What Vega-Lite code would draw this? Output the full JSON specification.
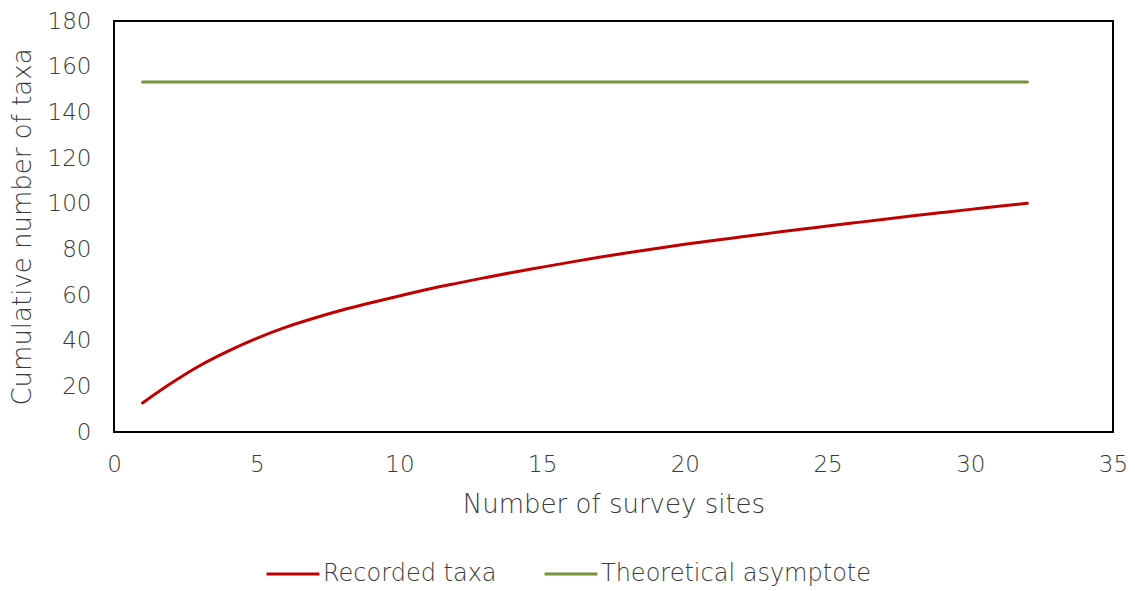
{
  "$schema": "https://vega.github.io/schema/vega-lite/v6.json",
  "autosize": {"type": "none"},
  "width": 999,
  "height": 411,
  "padding": {"left": 114, "top": 21, "right": 22, "bottom": 159},
  "background": "white",
  "config": {
    "view": {"stroke": "#000000", "strokeWidth": 2},
    "font": "DejaVu Sans",
    "axis": {
      "grid": false,
      "domain": false,
      "ticks": false,
      "labelFlush": false,
      "labelFont": "DejaVu Sans",
      "labelFontWeight": 200,
      "labelFontSize": 23,
      "labelColor": "#3a3a3a",
      "titleFont": "DejaVu Sans",
      "titleFontWeight": 200,
      "titleFontSize": 26,
      "titleColor": "#3a3a3a"
    }
  },
  "data": {
    "values": [
      {"sites": 1, "taxa": 12.7, "series": "Recorded taxa"},
      {"sites": 2, "taxa": 21.3, "series": "Recorded taxa"},
      {"sites": 3, "taxa": 29.0, "series": "Recorded taxa"},
      {"sites": 4, "taxa": 35.4, "series": "Recorded taxa"},
      {"sites": 5, "taxa": 41.0, "series": "Recorded taxa"},
      {"sites": 6, "taxa": 45.8, "series": "Recorded taxa"},
      {"sites": 7, "taxa": 49.8, "series": "Recorded taxa"},
      {"sites": 8, "taxa": 53.4, "series": "Recorded taxa"},
      {"sites": 9, "taxa": 56.6, "series": "Recorded taxa"},
      {"sites": 10, "taxa": 59.6, "series": "Recorded taxa"},
      {"sites": 11, "taxa": 62.5, "series": "Recorded taxa"},
      {"sites": 12, "taxa": 65.1, "series": "Recorded taxa"},
      {"sites": 13, "taxa": 67.6, "series": "Recorded taxa"},
      {"sites": 14, "taxa": 70.0, "series": "Recorded taxa"},
      {"sites": 15, "taxa": 72.2, "series": "Recorded taxa"},
      {"sites": 16, "taxa": 74.4, "series": "Recorded taxa"},
      {"sites": 17, "taxa": 76.5, "series": "Recorded taxa"},
      {"sites": 18, "taxa": 78.5, "series": "Recorded taxa"},
      {"sites": 19, "taxa": 80.4, "series": "Recorded taxa"},
      {"sites": 20, "taxa": 82.2, "series": "Recorded taxa"},
      {"sites": 21, "taxa": 83.9, "series": "Recorded taxa"},
      {"sites": 22, "taxa": 85.5, "series": "Recorded taxa"},
      {"sites": 23, "taxa": 87.1, "series": "Recorded taxa"},
      {"sites": 24, "taxa": 88.7, "series": "Recorded taxa"},
      {"sites": 25, "taxa": 90.2, "series": "Recorded taxa"},
      {"sites": 26, "taxa": 91.7, "series": "Recorded taxa"},
      {"sites": 27, "taxa": 93.2, "series": "Recorded taxa"},
      {"sites": 28, "taxa": 94.7, "series": "Recorded taxa"},
      {"sites": 29, "taxa": 96.1, "series": "Recorded taxa"},
      {"sites": 30, "taxa": 97.5, "series": "Recorded taxa"},
      {"sites": 31, "taxa": 98.9, "series": "Recorded taxa"},
      {"sites": 32, "taxa": 100.2, "series": "Recorded taxa"},
      {"sites": 1, "taxa": 153.3, "series": "Theoretical asymptote"},
      {"sites": 32, "taxa": 153.3, "series": "Theoretical asymptote"}
    ]
  },
  "mark": {"type": "line", "strokeWidth": 3, "interpolate": "monotone", "strokeCap": "round"},
  "encoding": {
    "x": {
      "field": "sites",
      "type": "quantitative",
      "scale": {"domain": [0, 35], "nice": false},
      "axis": {"values": [0, 5, 10, 15, 20, 25, 30, 35], "labelPadding": 21, "title": "Number of survey sites", "titlePadding": 15}
    },
    "y": {
      "field": "taxa",
      "type": "quantitative",
      "scale": {"domain": [0, 180], "nice": false},
      "axis": {"values": [0, 20, 40, 60, 80, 100, 120, 140, 160, 180], "labelPadding": 23, "title": "Cumulative number of taxa", "titlePadding": 12}
    },
    "color": {
      "field": "series",
      "type": "nominal",
      "scale": {"domain": ["Recorded taxa", "Theoretical asymptote"], "range": ["#C00000", "#77933C"]},
      "legend": {
        "title": null,
        "orient": "none",
        "legendX": 151,
        "legendY": 525,
        "direction": "horizontal",
        "symbolType": "stroke",
        "symbolSize": 2800,
        "symbolStrokeWidth": 3,
        "labelFont": "DejaVu Sans",
        "labelFontWeight": 200,
        "labelFontSize": 24,
        "labelColor": "#3a3a3a",
        "labelOffset": 2,
        "columnPadding": 41,
        "labelLimit": 400
      }
    }
  }
}
